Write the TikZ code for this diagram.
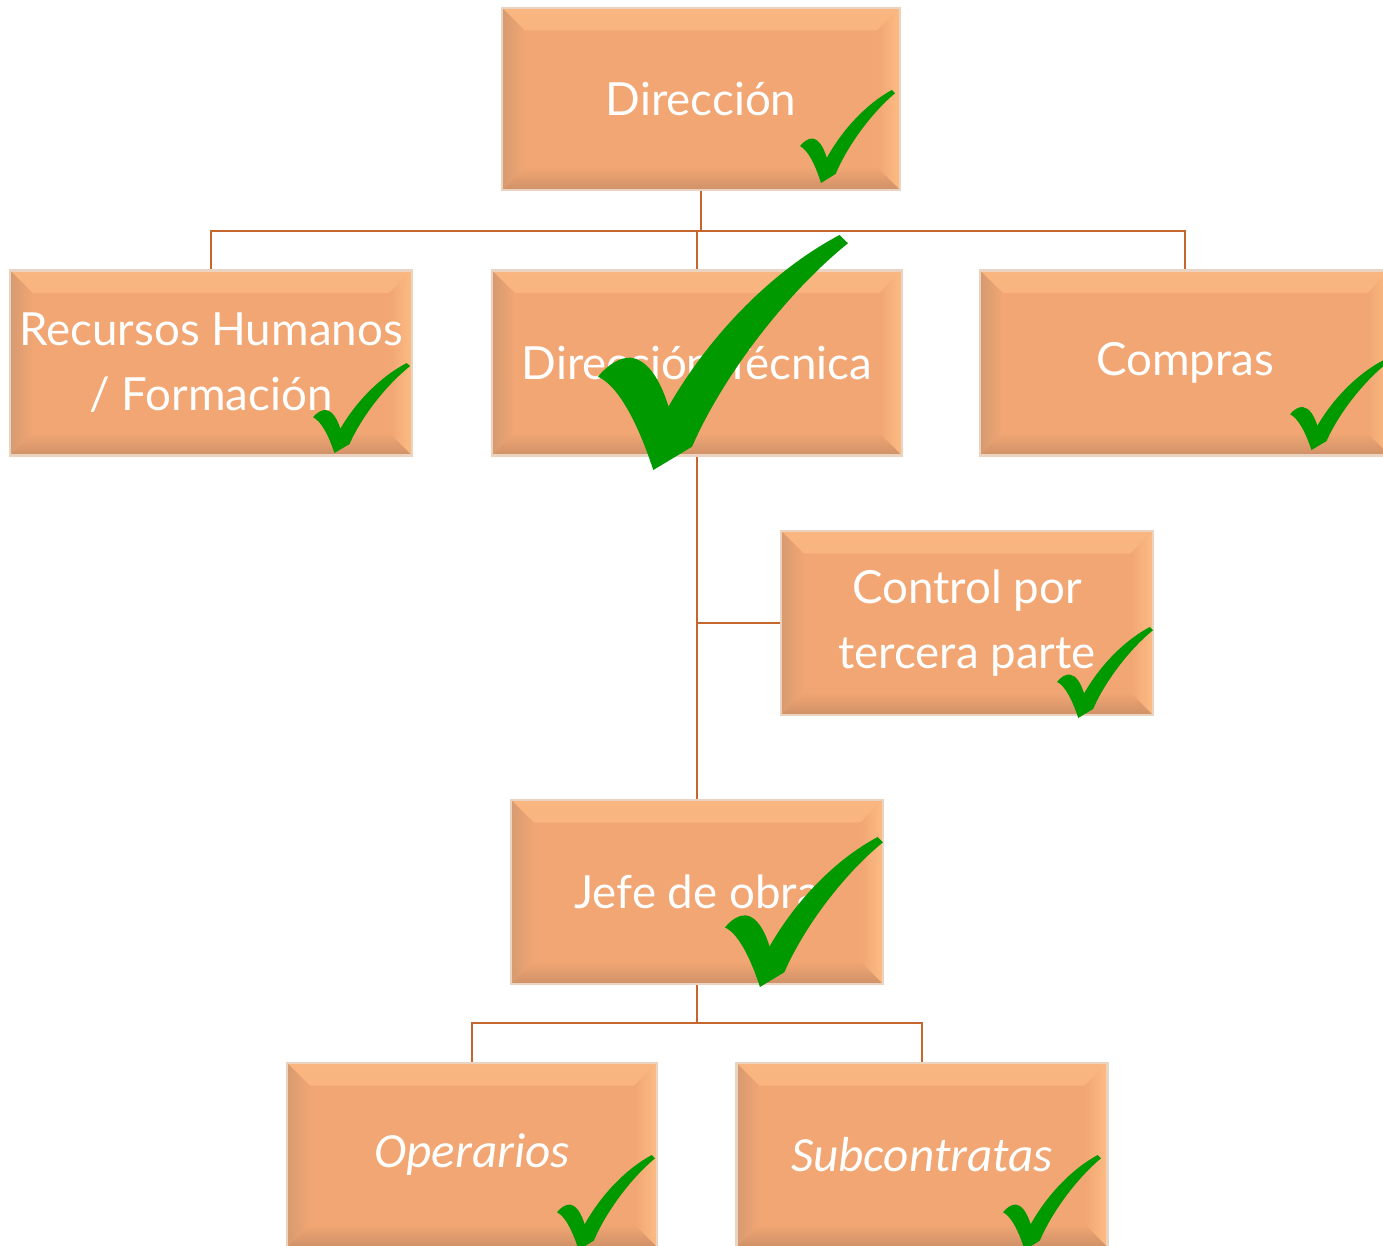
\documentclass[tikz,border=0pt]{standalone}
\usepackage{fontspec}
\newfontfamily\handfont{Lato}
\newfontfamily\slimfont{Carlito}
\definecolor{boxfill}{HTML}{F1A673}
\definecolor{boxrim}{HTML}{EBD3C2}
\definecolor{bevtop}{HTML}{FAB680}
\definecolor{bevright}{HTML}{FDBC84}
\definecolor{bevleft}{HTML}{D69A70}
\definecolor{bevbottom}{HTML}{CF9168}
\definecolor{linkcol}{HTML}{C5662F}
\definecolor{okgreen}{HTML}{009900}
\newcommand{\bv}{0.45cm}
\newcommand{\orgbox}[4][]{\node[bevelbox,#1] at (#2) (#3) {#4}}
\newcommand{\okmark}[3]{\pic[xscale=#2,yscale=#3] at (#1) {vmark}}
\tikzset{
	bevelbox/.style={rectangle,draw=boxrim,line width=1.5pt,fill=boxfill,text=white,align=center,inner sep=0pt,
		font=\handfont\fontsize{26}{37}\selectfont,
		path picture={
			\def\pb{path picture bounding box}
			\shade[top color=bevtop,bottom color=boxfill] (\pb.north west) -- (\pb.north east) -- ([shift={(-\bv,-\bv)}]\pb.north east) -- ([shift={(\bv,-\bv)}]\pb.north west) -- cycle;
			\shade[left color=boxfill,right color=bevright] (\pb.north east) -- (\pb.south east) -- ([shift={(-\bv,\bv)}]\pb.south east) -- ([shift={(-\bv,-\bv)}]\pb.north east) -- cycle;
			\shade[left color=bevleft,right color=boxfill] (\pb.north west) -- (\pb.south west) -- ([shift={(\bv,\bv)}]\pb.south west) -- ([shift={(\bv,-\bv)}]\pb.north west) -- cycle;
			\shade[top color=boxfill,bottom color=bevbottom] (\pb.south west) -- (\pb.south east) -- ([shift={(-\bv,\bv)}]\pb.south east) -- ([shift={(\bv,\bv)}]\pb.south west) -- cycle;
		}},
	slim/.style={font=\slimfont\itshape\fontsize{28}{34}\selectfont},
	link/.style={draw=linkcol,line width=1.2pt},
	vmark/.pic={
		\fill[okgreen] (0.221,1) .. controls (0.16,0.80) and (0.08,0.64) .. (0,0.603)
			.. controls (0.04,0.55) and (0.09,0.52) .. (0.13,0.522)
			.. controls (0.2,0.53) and (0.25,0.62) .. (0.282,0.73)
			.. controls (0.45,0.42) and (0.7,0.15) .. (0.966,0) -- (1,0.035)
			.. controls (0.75,0.25) and (0.5,0.6) .. (0.376,0.901) -- cycle;
	}
}

\begin{document}
\begin{tikzpicture}[x=0.02cm,y=-0.02cm]
			\useasboundingbox (0,0) rectangle (1383,1245);
			\clip (0,0) rectangle (1383,1245);
			
			\orgbox[minimum width=7.96cm,minimum height=3.64cm]{701,99}{dir}{Dirección};
			\orgbox[minimum width=8.04cm,minimum height=3.7cm]{211,363}{rrhh}{Recursos Humanos\\/ Formación};
			\orgbox[minimum width=8.2cm,minimum height=3.7cm]{697,363}{dtec}{Dirección Técnica};
			\orgbox[minimum width=8.2cm,minimum height=3.7cm]{1185,363}{comp}{Compras};
			\orgbox[minimum width=7.44cm,minimum height=3.68cm]{967,623}{ctrl}{Control por\\tercera parte};
			\orgbox[minimum width=7.44cm,minimum height=3.68cm]{697,892}{jefe}{Jefe de obra};
			\orgbox[minimum width=7.4cm,minimum height=3.68cm,slim]{472,1155}{oper}{Operarios};
			\orgbox[minimum width=7.42cm,minimum height=3.68cm,slim]{922,1155}{subc}{Subcontratas};
			
			\coordinate (bar1) at (dir.south |- 0,231);
			\coordinate (bar2) at (jefe.south |- 0,1023);
			\draw[link] (dir.south) -- (bar1);
			\draw[link] (rrhh.north) |- (bar1) -| (comp.north);
			\draw[link] (dtec.north) -- (dtec.north |- bar1);
			\draw[link] (dtec.south) -- (jefe.north);
			\draw[link] (ctrl.west) -- (ctrl.west -| dtec.south);
			\draw[link] (jefe.south) -- (bar2);
			\draw[link] (oper.north) |- (bar2) -| (subc.north);
			
			\okmark{800,90}{95}{93};
			\okmark{313,363}{97}{90};
			\okmark{598,235}{250}{235};
			\okmark{1290,360}{97}{90};
			\okmark{1057,627}{96}{91};
			\okmark{725,837}{158}{150};
			\okmark{557,1155}{98}{95};
			\okmark{1003,1155}{98}{95};
			
\end{tikzpicture}
\end{document}
